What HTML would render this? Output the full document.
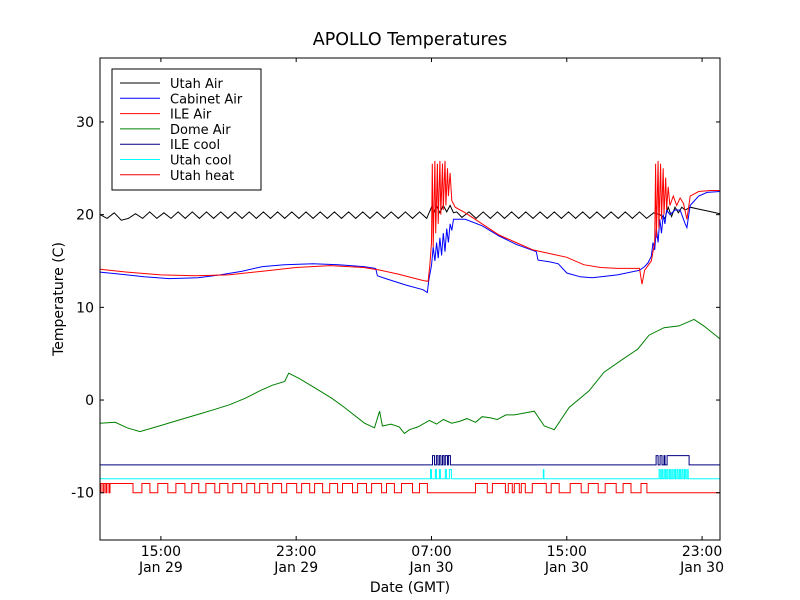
<!DOCTYPE html>
<html><head><meta charset="utf-8"><style>
body{margin:0;background:#fff;}
svg{display:block;font-family:"DejaVu Sans","Liberation Sans",sans-serif;}
</style></head><body>
<svg id="chart" width="800" height="600" viewBox="0 0 800 600">
<rect x="0" y="0" width="800" height="600" fill="#fff"/>
<text x="410" y="45" font-size="17.5" text-anchor="middle">APOLLO Temperatures</text>
<g id="plot"></g>
<rect x="100" y="58" width="620" height="482" fill="none" stroke="#000" stroke-width="1"/>
<g id="axes"></g>
<text x="410" y="592" font-size="14" text-anchor="middle">Date (GMT)</text>
<text transform="translate(63,299) rotate(-90)" font-size="14" text-anchor="middle">Temperature (C)</text>
<g id="legend"></g>
</svg>
<script>
const xTicks=[15,23,31,39,47];
const xTickTime=["15:00","23:00","07:00","15:00","23:00"];
const xTickDate=["Jan 29","Jan 29","Jan 30","Jan 30","Jan 30"];
const yTicks=[30,20,10,0,-10];
const yTickLabels=["30","20","10","0","-10"];
const seriesNames=["Utah Air","Cabinet Air","ILE Air","Dome Air","ILE cool","Utah cool","Utah heat"];
const seriesColors=["#000","#0000ff","#ff0000","#008000","#000080","#00ffff","#ff0000"];

const utahAirT=[11.40,11.82,12.24,12.66,13.08,13.50,13.92,14.34,14.76,15.18,15.60,16.02,16.44,16.86,17.28,17.70,18.12,18.54,18.96,19.38,19.80,20.22,20.64,21.06,21.48,21.90,22.32,22.74,23.16,23.58,24.00,24.42,24.84,25.26,25.68,26.10,26.52,26.94,27.36,27.78,28.20,28.62,29.04,29.46,29.88,30.30,30.72,31.0,31.1,31.3,31.5,31.7,31.9,32.1,32.3,32.5,32.8,33.22,33.64,34.06,34.48,34.9,35.32,35.74,36.16,36.58,37.0,37.42,37.84,38.26,38.68,39.1,39.52,39.94,40.36,40.78,41.2,41.62,42.04,42.46,42.88,43.3,43.72,44.14,44.5,44.8,45.0,45.2,45.4,45.6,45.8,46.0,46.3,46.8,47.3,48.06];
const utahAirV=[20.0,19.6,20.2,19.4,19.6,20.1,19.6,20.3,19.6,20.2,19.6,20.3,19.6,20.3,19.6,20.3,19.6,20.3,19.6,20.3,19.6,20.3,19.6,20.3,19.6,20.3,19.6,20.3,19.6,20.3,19.6,20.3,19.6,20.3,19.6,20.3,19.6,20.3,19.6,20.3,19.6,20.3,19.6,20.3,19.6,20.3,19.6,20.8,20.0,20.9,20.2,21.0,20.3,21.0,20.2,20.3,19.7,20.3,19.6,20.3,19.6,20.3,19.6,20.3,19.6,20.3,19.6,20.3,19.6,20.3,19.6,20.3,19.6,20.3,19.6,20.3,19.6,20.3,19.6,20.3,19.6,20.3,19.6,20.2,20.0,19.6,20.8,19.8,20.8,20.2,20.8,20.5,20.8,20.6,20.4,20.1];

const cabinetT=[11.4,12.5,14,15.5,17.2,18.5,19.8,21,22.3,24,25.5,27,27.7,27.8,28.3,29.5,30.5,30.75,30.85,31.0,31.1,31.2,31.3,31.4,31.5,31.6,31.7,31.8,31.9,32.0,32.1,32.2,32.3,33.0,34.0,35.0,36.0,37.2,37.3,38.0,38.5,39.0,39.8,40.5,42.0,43.3,43.6,43.8,44.0,44.1,44.2,44.3,44.4,44.5,44.6,44.7,44.8,44.9,45.1,45.4,45.7,46.0,46.1,46.3,46.8,47.3,48.06];
const cabinetV=[13.8,13.6,13.3,13.1,13.2,13.5,13.9,14.4,14.6,14.7,14.6,14.4,14.2,13.4,13.1,12.4,11.9,11.6,13.0,14.5,16.5,15.0,17.0,15.3,17.5,15.6,18.0,16.0,18.5,17.0,19.0,18.3,19.5,19.5,18.8,17.7,16.8,16.0,15.1,14.9,14.7,13.7,13.3,13.2,13.5,14.0,14.4,14.8,15.5,17.0,16.2,18.5,17.0,19.5,18.0,20.0,19.0,20.5,20.0,20.5,20.5,19.0,18.6,21.0,22.0,22.4,22.5];

const ileAirT=[11.4,13,15,17,19,21,23,25,27,28,29,30.5,30.8,30.9,31.0,31.05,31.1,31.2,31.25,31.35,31.4,31.5,31.55,31.65,31.7,31.8,31.85,31.95,32.0,32.1,32.2,32.4,33,34,35,36,37,38,39,40,41,42,43.3,43.45,43.6,43.8,44.0,44.2,44.25,44.3,44.4,44.45,44.55,44.6,44.7,44.75,44.85,44.9,45.0,45.1,45.3,45.5,45.7,45.9,46.1,46.3,46.8,47.5,48.06];
const ileAirV=[14.1,13.8,13.5,13.4,13.5,13.9,14.3,14.5,14.3,14.0,13.6,12.9,12.8,14.5,17.0,25.5,16.5,25.8,18.0,25.5,19.0,25.8,20.0,25.5,20.5,25.8,21.0,25.0,22.0,24.5,21.5,20.8,20.2,19.0,17.8,17.0,16.2,15.8,15.4,14.6,14.3,14.2,14.2,12.5,14.0,14.5,15.0,17,25.5,17.5,25.8,18.5,25.5,19.5,25.0,20.0,24.0,20.5,23.0,21.0,22.0,21.0,21.8,21.2,19.5,22.0,22.5,22.6,22.6];

const domeT=[11.4,12.3,13.0,13.76,14.9,16.0,17.3,18.2,19.07,20.0,20.85,21.6,22.32,22.56,23.2,24.39,25.1,25.86,27.04,27.63,27.93,28.1,28.6,29.1,29.4,29.7,30.2,30.88,31.3,31.7,32.2,32.65,33.1,33.6,34.0,34.42,34.9,35.4,35.9,36.5,37.08,37.67,38.26,39.14,40.32,41.2,42.39,43.2,43.87,44.75,45.63,46.52,47.1,48.06];
const domeV=[-2.5,-2.4,-3.0,-3.4,-2.8,-2.2,-1.5,-1.0,-0.5,0.2,1.0,1.6,2.0,2.9,2.3,1.0,0.2,-0.8,-2.5,-3.0,-1.2,-2.8,-2.6,-2.9,-3.6,-3.2,-2.9,-2.2,-2.6,-2.1,-2.5,-2.3,-2.0,-2.4,-1.8,-1.9,-2.1,-1.6,-1.6,-1.4,-1.2,-2.8,-3.2,-0.8,1.0,3.0,4.5,5.5,7.0,7.8,8.0,8.7,8.0,6.6];

const ileCoolBase=-7, ileCoolHigh=-6;
const ileCoolOn=[[31.06,31.18],[31.29,31.38],[31.47,31.56],[31.65,31.74],[31.82,31.94],[32.00,32.12],[44.28,44.40],[44.52,44.63],[44.75,44.81],[44.93,46.23]];
const utahCoolBase=-8.5, utahCoolHigh=-7.5;
const utahCoolOn=[[30.94,31.0],[31.23,31.29],[31.47,31.53],[31.82,31.88],[32.06,32.18],[37.61,37.65],[44.46,44.53],[44.61,44.68],[44.76,44.83],[44.91,44.98],[45.06,45.13],[45.21,45.28],[45.36,45.43],[45.51,45.58],[45.66,45.73],[45.81,45.88],[45.96,46.03],[46.11,46.18]];
const utahHeatBase=-10, utahHeatHigh=-9;
const utahHeatOn=[[11.46,11.58],[11.64,11.75],[11.81,11.93],[11.99,13.35],[13.88,14.35],[14.82,15.41],[15.89,16.42],[16.83,17.24],[17.66,18.19],[18.48,18.96],[19.25,19.78],[20.08,20.55],[20.84,21.32],[21.61,22.14],[22.44,23.03],[23.32,23.80],[24.09,24.56],[24.98,25.45],[25.74,26.33],[26.63,27.16],[27.46,28.05],[28.34,28.81],[29.23,29.88],[30.29,30.76],[33.60,34.30],[34.60,35.37],[35.54,35.78],[35.90,36.19],[36.31,36.55],[36.96,37.79],[38.08,38.55],[39.20,39.85],[40.27,40.86],[41.27,41.92],[42.33,42.80],[43.39,43.74]];

const xMin=11.4,xMax=48.06,yMin=-15.1,yMax=36.9;
const L=100,R=720,T=58,B=540;
function xs(h){return L+(h-xMin)/(xMax-xMin)*(R-L);}
function ys(v){return B-(v-yMin)/(yMax-yMin)*(B-T);}
const NS="http://www.w3.org/2000/svg";
const plot=document.getElementById('plot');
const axes=document.getElementById('axes');
function mk(tag,attrs,parent){const e=document.createElementNS(NS,tag);for(const k in attrs)e.setAttribute(k,attrs[k]);parent.appendChild(e);return e;}
function drawLine(ts,vs,color,name){
  let d='';ts.forEach((t,i)=>{d+=(i?'L':'M')+xs(t).toFixed(1)+','+ys(vs[i]).toFixed(1);});
  const p=mk('path',{d:d,fill:'none',stroke:color,'stroke-width':1},plot);
  
  
}
function drawStep(on,base,high,color,name){
  let d='M'+xs(xMin).toFixed(1)+','+ys(base).toFixed(1);
  on.forEach(iv=>{d+='L'+xs(iv[0]).toFixed(1)+','+ys(base).toFixed(1)+'L'+xs(iv[0]).toFixed(1)+','+ys(high).toFixed(1)+'L'+xs(iv[1]).toFixed(1)+','+ys(high).toFixed(1)+'L'+xs(iv[1]).toFixed(1)+','+ys(base).toFixed(1);});
  d+='L'+xs(xMax).toFixed(1)+','+ys(base).toFixed(1);
  const p=mk('path',{d:d,fill:'none',stroke:color,'stroke-width':1},plot);
  
  
}
drawLine(domeT,domeV,seriesColors[3],'dome-air-line');
drawLine(utahAirT,utahAirV,seriesColors[0],'utah-air-line');
drawLine(cabinetT,cabinetV,seriesColors[1],'cabinet-air-line');
drawLine(ileAirT,ileAirV,seriesColors[2],'ile-air-line');
drawStep(ileCoolOn,ileCoolBase,ileCoolHigh,seriesColors[4],'ile-cool-line');
drawStep(utahCoolOn,utahCoolBase,utahCoolHigh,seriesColors[5],'utah-cool-line');
drawStep(utahHeatOn,utahHeatBase,utahHeatHigh,seriesColors[6],'utah-heat-line');

yTicks.forEach((v,i)=>{
  const y=ys(v);
  const t1=mk('line',{x1:L,x2:L+4,y1:y,y2:y,stroke:'#000'},axes);
  
  
  const t2=mk('line',{x1:R-4,x2:R,y1:y,y2:y,stroke:'#000'},axes);
  
  
  const tx=mk('text',{x:L-6,y:y+5,'font-size':14,'text-anchor':'end'},axes);
  tx.textContent=yTickLabels[i];
  
  
});
xTicks.forEach((h,i)=>{
  const x=xs(h);
  const t1=mk('line',{x1:x,x2:x,y1:B,y2:B-4,stroke:'#000'},axes);
  
  
  const t2=mk('line',{x1:x,x2:x,y1:T,y2:T+4,stroke:'#000'},axes);
  
  
  const a=mk('text',{x:x,y:B+16,'font-size':14,'text-anchor':'middle'},axes);
  a.textContent=xTickTime[i];
  
  
  const b=mk('text',{x:x,y:B+32,'font-size':14,'text-anchor':'middle'},axes);
  b.textContent=xTickDate[i];
  
  
});
const leg=document.getElementById('legend');
const box=mk('rect',{x:112,y:69,width:149,height:121,fill:'#fff',stroke:'#000'},leg);


seriesNames.forEach((n,i)=>{
  const y=83+i*15.3;
  const g=mk('g',{},leg);
  
  
  mk('line',{x1:120,x2:160,y1:y,y2:y,stroke:seriesColors[i]},g);
  const t=mk('text',{x:170,y:y+5,'font-size':13},g);
  t.textContent=n;
});
</script>
</body></html>
